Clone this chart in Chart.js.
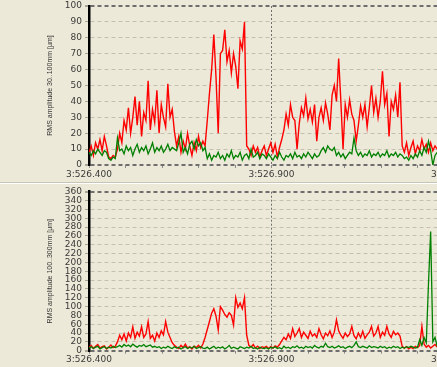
<!DOCTYPE html>
<html>
<head>
<meta charset="utf-8">
<script src="https://cdn.jsdelivr.net/npm/chart.js@4.4.0/dist/chart.umd.min.js"></script>
<style>
  html, body { margin: 0; padding: 0; background: #ece9d8; overflow: hidden; width: 437px; height: 367px; }
  .panel { position: relative; width: 478px; height: 182px; }
  .sep { height: 1px; background: #c9c5b4; border-bottom: 1px solid #ffffff; width: 437px; }
  #bottomPanel { height: 183px; }
</style>
</head>
<body>
<div class="panel"><canvas id="topChart"></canvas></div>
<div class="sep"></div>
<div class="panel" id="bottomPanel"><canvas id="bottomChart"></canvas></div>
<script>
// sample spacing is 6 ms, starting at 3:526.400
const sampleStep = 6;
const xTickLabels = ["3:526.400", "3:526.900", "3:527.400"];

const topTitle = "RMS amplitude 30..100mm [µm]";
const bottomTitle = "RMS amplitude 100..300mm [µm]";

const topRed = [
  8, 12, 6, 14, 10, 16, 9, 18, 12, 5,
  4, 6, 5, 10, 20, 14, 28, 22, 36, 20,
  30, 43, 25, 40, 18, 33, 28, 53, 22, 35,
  27, 47, 20, 38, 30, 24, 51, 30, 35, 21,
  12, 18, 8, 15, 10, 20, 12, 6, 14, 9,
  18, 11, 15, 12, 28, 45, 60, 82, 55, 20,
  70, 72, 85, 65, 72, 58, 70, 62, 48, 78,
  73, 90, 12, 10, 6, 12, 8, 11, 5, 9,
  12, 6, 10, 14, 8, 13, 5, 11, 16, 22,
  32, 25, 38, 30, 28, 10, 26, 36, 31, 42,
  29, 35, 27, 38, 15, 30, 36, 28, 39, 32,
  22, 44, 50, 40, 67, 40, 10, 38, 30, 41,
  32, 28, 15, 25, 37, 30, 38, 24, 36, 50,
  33, 42, 30, 40, 59, 38, 45, 18, 40, 35,
  44, 30, 52, 12, 8, 14, 6, 11, 15, 7,
  12, 9, 16, 10, 13, 8, 14, 9, 12, 10,
];

const topGreen = [
  8, 6, 9, 7, 10, 8, 6, 9, 8, 4,
  3, 5, 4, 17, 9, 10, 7, 12, 9, 11,
  6, 10, 13, 8, 11, 9, 12, 7, 10, 14,
  8, 11, 9, 12, 8, 10, 13, 9, 11, 10,
  9, 14, 20, 8, 11, 7, 13, 15, 10, 16,
  12, 14, 9, 11, 4, 7, 3, 6, 5, 8,
  4, 6, 3, 7, 5, 9, 4, 6, 5, 8,
  3, 6, 7, 4, 10, 5, 6, 8, 4, 7,
  6, 4, 7, 5, 3, 6, 4, 8, 5, 3,
  6, 5, 7, 4, 8, 5, 6, 4, 7, 5,
  8, 6, 4, 7, 5, 6, 9, 11, 8, 12,
  10, 9, 11, 6, 8, 5, 7, 4, 6, 8,
  7, 17, 9, 6, 8, 5, 7, 6, 9, 5,
  7, 6, 8, 5, 7, 6, 9, 5, 7, 6,
  8, 5, 7, 6, 4, 5, 3, 6, 4, 7,
  5, 9, 6, 11, 8, 15, 9, 0, 6, 8,
];

const bottomRed = [
  8, 12, 5, 10, 14, 6, 9, 11, 4, 8,
  13, 7, 10, 20, 35, 25, 38, 22, 40, 30,
  54, 28, 42, 33, 54, 30, 38, 66, 28, 35,
  22, 40, 30, 45, 36, 66, 42, 30, 18, 12,
  8, 5, 12, 7, 15, 6, 9, 4, 10, 7,
  12, 6, 15, 30, 48, 66, 85, 95, 78, 47,
  100, 92, 82, 76, 86, 80, 58, 120, 98, 108,
  95, 120, 35, 12, 8, 14, 6, 10, 5, 9,
  7, 10, 5, 9, 6, 11, 8, 14, 22, 30,
  25, 38, 28, 50, 32, 40, 50, 30, 42, 35,
  28, 44, 33, 38, 30, 50, 36, 27, 40, 34,
  45, 30, 42, 70, 45, 35, 28, 40, 32, 38,
  55, 34, 27, 40, 30, 44, 28, 36, 42, 55,
  33, 40, 55, 30, 42, 35, 55, 38, 30, 44,
  36, 40, 33, 10, 6, 9, 4, 8, 5, 10,
  7, 12, 55, 15, 8, 12, 6, 10, 14, 8,
];

const bottomGreen = [
  6, 9, 5, 8, 10, 4, 7, 9, 5, 8,
  6, 10, 7, 9, 12, 8, 14, 10, 13, 9,
  15, 11, 8, 12, 10, 14, 9, 11, 13, 8,
  10, 7, 9, 5, 8, 6, 10, 7, 5, 9,
  6, 8, 4, 7, 9, 5, 8, 6, 10, 5,
  7, 9, 6, 5, 8, 4, 7, 10, 5, 8,
  6, 9, 4, 7, 12, 5, 8, 6, 4, 9,
  7, 5, 8, 6, 10, 5, 7, 4, 8, 6,
  5, 7, 4, 8, 6, 9, 5, 7, 4, 10,
  6, 8, 5, 9, 7, 11, 6, 8, 5, 10,
  7, 9, 6, 12, 8, 6, 10, 8, 17, 9,
  7, 10, 6, 8, 11, 7, 9, 5, 8, 10,
  7, 12, 20, 9, 7, 10, 8, 6, 11, 7,
  9, 8, 6, 10, 7, 9, 5, 8, 6, 10,
  7, 9, 5, 8, 6, 9, 7, 10, 8, 6,
  8, 25, 12, 30, 18, 150, 270, 20, 30, 10,
];

Chart.defaults.font.family = "DejaVu Sans";
Chart.defaults.font.size = 9;
Chart.defaults.color = "#3a3a3a";

function toPoints(values) {
  return values.map((v, i) => ({ x: i * sampleStep, y: v }));
}

function makeChart(id, red, green, yMax, yStep, title, padTop, xHeight) {
  const ctx = document.getElementById(id).getContext("2d");
  return new Chart(ctx, {
    type: "line",
    data: {
      datasets: [
        {
          label: "green",
          data: toPoints(green),
          borderColor: "#008000",
          borderWidth: 1.3,
          pointRadius: 0,
          tension: 0,
        },
        {
          label: "red",
          data: toPoints(red),
          borderColor: "#ff0000",
          borderWidth: 1.4,
          pointRadius: 0,
          tension: 0,
        },
      ],
    },
    options: {
      responsive: true,
      maintainAspectRatio: false,
      animation: false,
      layout: { padding: { top: padTop, left: 0, right: 0, bottom: 0 } },
      scales: {
        x: {
          type: "linear",
          min: 0,
          max: 1000,
          afterFit: (s) => { s.height = xHeight; },
          ticks: {
            stepSize: 100,
            autoSkip: false,
            maxRotation: 0,
            padding: 1,
            callback: (v) => (v % 500 === 0 ? xTickLabels[v / 500] : ""),
          },
          grid: {
            color: (c) => (c.tick && c.tick.value % 500 === 0 ? "#6e6e6e" : "rgba(0,0,0,0)"),
            tickColor: "#8a8a8a",
            tickLength: 3,
          },
          border: { display: false, dash: [2, 2] },
        },
        y: {
          min: 0,
          max: yMax,
          afterFit: (s) => {
            s.width = 89;
            s.paddingTop = 0;
            s.paddingBottom = 0;
          },
          ticks: { stepSize: yStep, autoSkip: false, padding: 3 },
          grid: {
            color: (c) => (c.tick && (c.tick.value === 0 || c.tick.value === yMax) ? "#6e6e6e" : "#c4c1b2"),
            lineWidth: (c) => (c.tick && (c.tick.value === 0 || c.tick.value === yMax) ? 2 : 1),
            tickColor: "#a9a697",
            tickLength: 4,
          },
          border: { display: true, color: "#000000", width: 2.5, dash: [4, 3] },
          title: {
            display: true,
            text: title,
            font: { family: "Liberation Sans", size: 7 },
            color: "#333333",
            padding: { top: 46, bottom: 0 },
          },
        },
      },
      plugins: {
        legend: { display: false },
        tooltip: { enabled: false },
      },
    },
  });
}

makeChart("topChart", topRed, topGreen, 100, 10, topTitle, 6, 17);
makeChart("bottomChart", bottomRed, bottomGreen, 360, 20, bottomTitle, 7.7, 16.3);
</script>
</body>
</html>
